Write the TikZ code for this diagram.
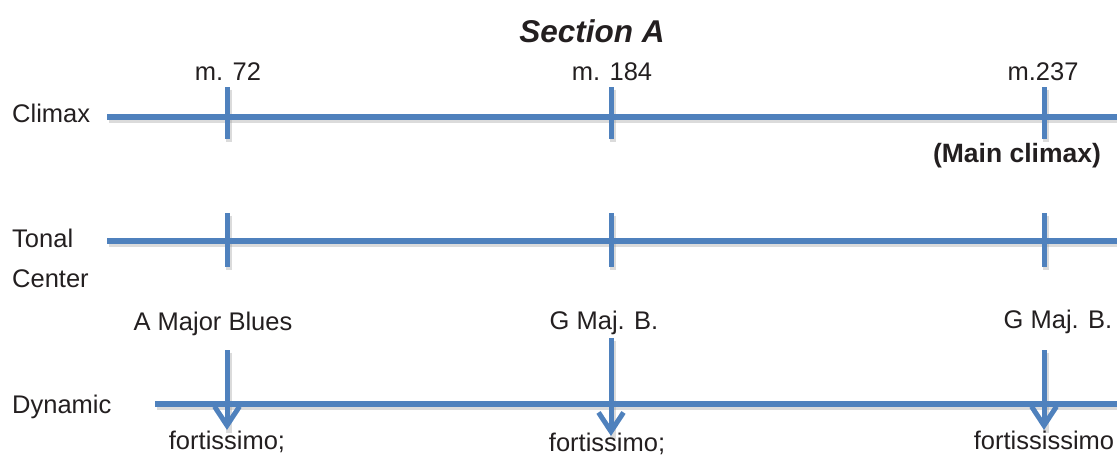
\documentclass[tikz,border=0pt]{standalone}
\usepackage{fontspec}
\setmainfont{Liberation Sans}
\usetikzlibrary{arrows.meta}
\definecolor{axisblue}{RGB}{79,129,189}
\definecolor{inktext}{RGB}{35,31,32}
\tikzset{
  axisline/.style={draw=axisblue, line width=5.5pt},
  tickline/.style={draw=axisblue, line width=5pt},
  shadowline/.style={draw=black!40, line width=6pt, opacity=0.35, transform canvas={shift={(1.5pt,-2.5pt)}}},
  lbl/.style={inner sep=0pt, anchor=base, text=inktext, font=\fontsize{25.5}{30}\selectfont},
  rowlbl/.style={lbl, anchor=base west},
  downarrow/.style={axisblue, line width=5pt, -{Straight Barb[length=19pt,width=25pt,line width=5pt]}},
}
\begin{document}
\begin{tikzpicture}[x=1pt,y=-1pt]
  \useasboundingbox (0,0) rectangle (1117,458);

  % timeline end points
  \coordinate (cl0) at (107,117);  \coordinate (cl1) at (1117,117);
  \coordinate (tc0) at (107,241);  \coordinate (tc1) at (1117,241);
  \coordinate (dy0) at (155,404);  \coordinate (dy1) at (1117,404);

  % tick marks and arrow end points at the three measures
  \foreach \i/\x/\top/\tip in {1/227/350/430, 2/611/338/436, 3/1044/350/430} {
    \coordinate (ct\i) at (\x,87);   \coordinate (cb\i) at (\x,139);
    \coordinate (tt\i) at (\x,213);  \coordinate (tb\i) at (\x,267);
    \coordinate (at\i) at (\x,\top); \coordinate (ab\i) at (\x,\tip);
  }

  % soft shadows
  \foreach \a/\b in {cl0/cl1, tc0/tc1, dy0/dy1}
    \draw[shadowline] (\a) -- (\b);
  \foreach \i in {1,2,3} {
    \draw[shadowline] (ct\i) -- (cb\i);
    \draw[shadowline] (tt\i) -- (tb\i);
    \draw[shadowline] (at\i) -- (ab\i);
  }

  % horizontal timelines
  \draw[axisline] (cl0) -- (cl1);
  \draw[axisline] (tc0) -- (tc1);
  \draw[axisline] (dy0) -- (dy1);

  % ticks and dynamic arrows
  \foreach \i in {1,2,3} {
    \draw[tickline] (ct\i) -- (cb\i);
    \draw[tickline] (tt\i) -- (tb\i);
    \draw[downarrow] (at\i) -- (ab\i);
  }

  % title and measure numbers
  \node[lbl, font=\fontsize{31.5}{36}\selectfont\bfseries\itshape] (title) at (592,42) {Section A};
  \node[lbl] (m1) at (228,80) {m. 72};
  \node[lbl] (m2) at (612,80) {m. 184};
  \node[lbl] (m3) at (1043,80) {m.237};

  % row labels
  \node[rowlbl] (climax) at (12,122) {Climax};
  \node[rowlbl] (tonal) at (12,247) {Tonal};
  \node[rowlbl] (center) at (12,287) {Center};
  \node[rowlbl] (dynamic) at (12,413) {Dynamic};

  \node[lbl, font=\fontsize{26.5}{30}\selectfont\bfseries] (main) at (1017,162) {(Main climax)};

  % tonal centers
  \node[lbl] (k1) at (213,330) {A Major Blues};
  \node[lbl] (k2) at (604,329) {G Maj. B.};
  \node[lbl] (k3) at (1058,328) {G Maj. B.};

  % dynamics
  \node[lbl] (d1) at (227,449) {fortissimo;};
  \node[lbl] (d2) at (607,451) {fortissimo;};
  \node[lbl] (d3) at (1044,449) {fortississimo};
\end{tikzpicture}
\end{document}
